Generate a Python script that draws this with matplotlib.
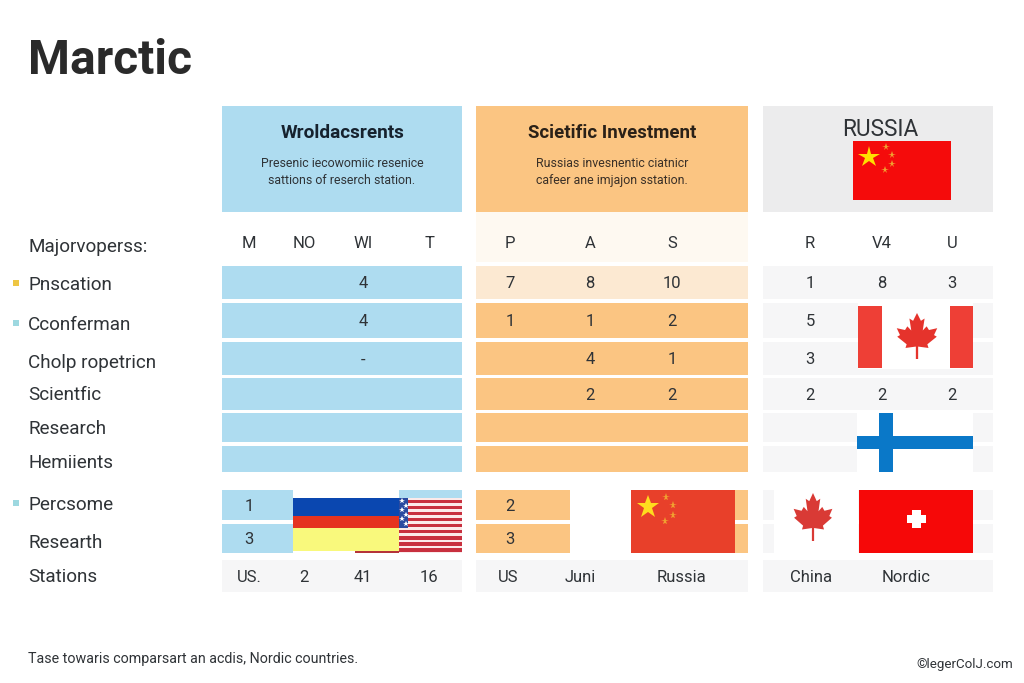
import matplotlib.pyplot as plt
from matplotlib.patches import Rectangle, Polygon

plt.rcParams['font.family'] = ['Roboto', 'DejaVu Sans']

# ---- text and values ----
title = "Marctic"
footnote = "Tase towaris comparsart an acdis, Nordic countries."
credit = "©legerColJ.com"

row_labels = ["Majorvoperss:", "Pnscation", "Cconferman", "Cholp ropetricn", "Scientfic",
              "Research", "Hemiients", "Percsome", "Researth", "Stations"]

blue_head = ["M", "NO", "WI", "T"]
blue_vals = [["", "", "4", ""], ["", "", "4", ""], ["", "", "-", ""], ["", "", "", ""],
             ["", "", "", ""], ["", "", "", ""], ["1", "", "", ""], ["3", "", "", ""],
             ["US.", "2", "41", "16"]]

orange_head = ["P", "A", "S"]
orange_vals = [["7", "8", "10"], ["1", "1", "2"], ["", "4", "1"], ["", "2", "2"],
               ["", "", ""], ["", "", ""], ["2", "", ""], ["3", "", ""]]
orange_last = ["US", "Juni", "Russia"]

grey_head = ["R", "V4", "U"]
grey_vals = [["1", "8", "3"], ["5", "", ""], ["3", "", ""], ["2", "2", "2"]]
grey_last = ["China", "Nordic"]

# ---- layout in pixels ----
BLUE = "#aedcf0"
ORANGE = "#fbc582"
GREY = "#ececed"
LIGHT = "#f6f6f7"
INK = "#2f3337"

row_tops = [266, 303, 342, 378, 413, 446, 490, 524, 560]
row_bots = [299, 338, 375, 410, 442, 472, 520, 553, 592]
label_y = [247, 285, 324, 362, 395, 429, 463, 505, 542, 576]

blue_x = [249, 304, 363, 429]
orange_x = [510, 590, 672]
orange_last_x = [508, 580, 681]
grey_x = [810, 882, 952]
grey_last_x = [811, 906]

MAPLE_HALF = [(0, 1), (0.17, 0.66), (0.33, 0.76), (0.25, 0.24), (0.42, 0.42), (0.52, 0.26),
              (0.88, 0.34), (0.74, 0.04), (0.86, -0.03), (0.45, -0.36), (0.50, -0.52),
              (0.05, -0.46), (0.05, -1)]

fig = plt.figure(figsize=(10.24, 6.83), dpi=100)
ax = fig.add_axes([0, 0, 1, 1])
ax.set_xlim(0, 1024)
ax.set_ylim(683, 0)
ax.axis("off")


def box(x0, y0, x1, y1, color, z=1):
    ax.add_patch(Rectangle((x0, y0), x1 - x0, y1 - y0, facecolor=color, edgecolor="none", zorder=z))


def label(x, y, s, size=12, weight="normal", color=INK, ha="center"):
    # roboto sits a bit high with va=center
    ax.text(x, y + 1.5, s, fontsize=size, fontweight=weight, color=color, ha=ha, va="center", zorder=6)


def china_flag(x0, y0, x1, y1, red, gold):
    box(x0, y0, x1, y1, red, 3)
    w = x1 - x0
    h = y1 - y0
    ax.plot(x0 + 0.16 * w, y0 + 0.27 * h, marker="*", ms=h * 0.27, color=gold, mew=0, zorder=4)
    for fx, fy in [(0.34, 0.11), (0.40, 0.24), (0.40, 0.39), (0.33, 0.49)]:
        ax.plot(x0 + fx * w, y0 + fy * h, marker="*", ms=h * 0.09, color="#f0a030", mew=0, zorder=4)


def maple(cx, cy, rx, ry, color):
    right = [(cx + px * rx, cy - py * ry) for px, py in MAPLE_HALF]
    left = [(cx - px * rx, cy - py * ry) for px, py in reversed(MAPLE_HALF)]
    ax.add_patch(Polygon(right + left, closed=True, facecolor=color, edgecolor="none", zorder=4))


# ---- header boxes ----
box(222, 106, 462, 212, BLUE)
box(476, 106, 748, 212, ORANGE)
box(763, 106, 993, 212, GREY)
box(476, 212, 748, 262, "#fef9f1")

label(343, 131, "Wroldacsrents", 13.7, "bold", "#16222e")
label(342, 162, "Presenic iecowomiic resenice", 8.9)
label(342, 179, "sattions of reserch station.", 8.9)
label(612, 131, "Scietific Investment", 13.4, "bold", "#2a2118")
label(612, 162, "Russias invesnentic ciatnicr", 8.9, color="#3a3027")
label(612, 179, "cafeer ane imjajon sstation.", 8.9, color="#3a3027")
label(880, 128, "RUSSIA", 16.3)

# ---- table rows ----
for i, (top, bot) in enumerate(zip(row_tops, row_bots)):
    last = i == len(row_tops) - 1
    box(222, top, 462, bot, LIGHT if last else BLUE)
    box(476, top, 748, bot, LIGHT if last else ("#fce9d2" if i == 0 else ORANGE))
    box(763, top, 993, bot, LIGHT)

# ---- row labels and markers ----
for s, y in zip(row_labels, label_y):
    label(28, y - 1, s, 13.6, ha="left")
ax.plot([16, 16, 16], [283, 323, 503], ls="none", marker="s", ms=5, mew=0, color="#9dd8e0", zorder=4)
ax.plot([16], [283], ls="none", marker="s", ms=5, mew=0, color="#eec643", zorder=5)

# ---- column heads ----
for s, x in zip(blue_head, blue_x):
    label(x, 242, s)
for s, x in zip(orange_head, orange_x):
    label(x, 242, s)
for s, x in zip(grey_head, grey_x):
    label(x, 242, s)

# ---- cell values ----
row_mid = [(a + b) / 2 for a, b in zip(row_tops, row_bots)]
for i, row in enumerate(blue_vals):
    for s, x in zip(row, blue_x):
        if s:
            label(x, row_mid[i], s)
for i, row in enumerate(orange_vals):
    for s, x in zip(row, orange_x):
        if s:
            label(x, row_mid[i], s)
for s, x in zip(orange_last, orange_last_x):
    label(x, row_mid[8], s)
for i, row in enumerate(grey_vals):
    for s, x in zip(row, grey_x):
        if s:
            label(x, row_mid[i], s)
for s, x in zip(grey_last, grey_last_x):
    label(x, row_mid[8], s)

# ---- flags in the header and the grey column ----
china_flag(853, 141, 951, 200, "#f50b0b", "#ffe000")

box(858, 303, 973, 369, "white", 3)
box(858, 306, 882, 368, "#ee3f36", 4)
box(950, 306, 973, 368, "#ee3f36", 4)
maple(917, 336, 23, 23, "#e5332c")

box(857, 413, 973, 472, "white", 3)
box(879, 413, 893, 472, "#0a78c8", 4)
box(857, 436, 973, 449, "#0a78c8", 4)

# ---- flags in the lower rows ----
box(293, 490, 399, 498, "white", 3)
box(293, 498, 399, 516, "#0a47b0", 3)
box(293, 516, 399, 528, "#e5331f", 3)
box(293, 528, 399, 551, "#f9f97c", 3)
box(293, 551, 355, 553, "white", 3)
box(355, 551, 399, 553, "#b5343a", 3)

box(399, 498, 462, 553, "#fbeaea", 3)
for k in range(9):
    y = 499.5 + k * 6.1
    box(399, y, 462, y + 3.4, "#c8303f", 4)
box(399, 498, 408, 528, "#2a4aa0", 5)
for k in range(6):
    ax.plot([401.5 + (k % 2) * 4], [501 + k * 4.6], marker="*", ms=4, mew=0, color="white", zorder=6)

box(570, 490, 631, 553, "white", 3)
china_flag(631, 490, 735, 553, "#e8402a", "#ffdc1e")

box(774, 490, 858, 553, "white", 3)
maple(813, 517, 22, 24, "#d93a35")

box(859, 490, 973, 553, "#f60808", 3)
box(912, 510, 921, 528, "white", 4)
box(907, 515, 926, 523, "white", 4)

# ---- title and footer ----
label(28, 59, title, 34.5, "bold", "#2a2a2a", ha="left")
label(28, 658, footnote, 10.3, ha="left")
label(1013, 663, credit, 9.6, ha="right")

fig.savefig("out.png", dpi=100, facecolor="white")
